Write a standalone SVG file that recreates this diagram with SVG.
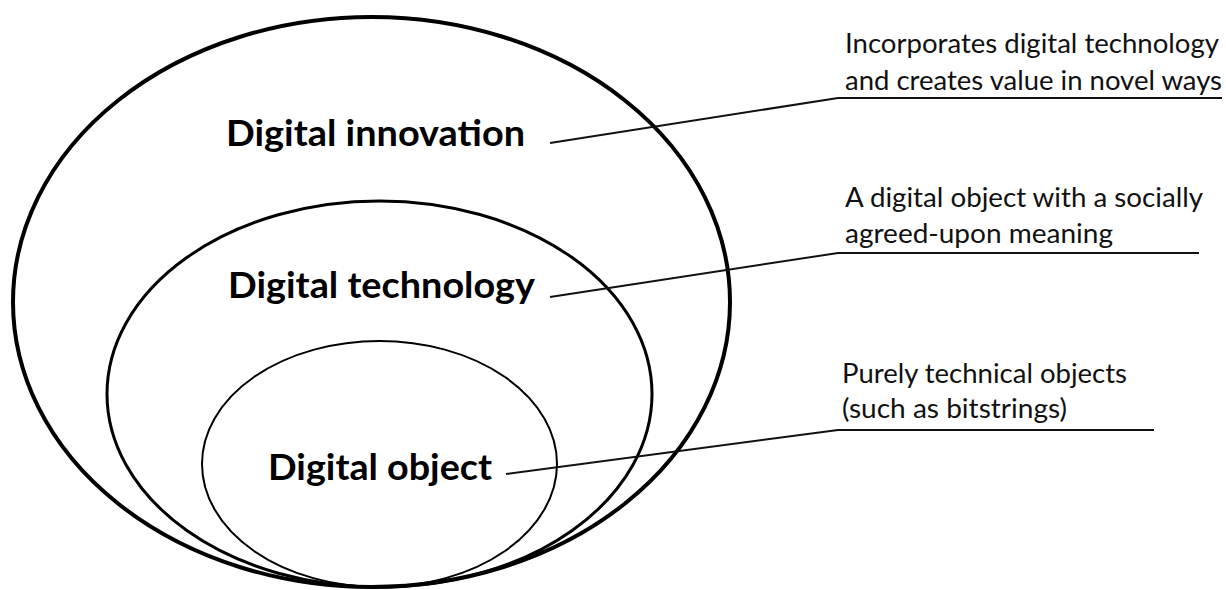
<svg xmlns="http://www.w3.org/2000/svg" width="1226" height="590" viewBox="0 0 1226 590">
  <style>
    .ring { fill: none; stroke: #000; }
    .label { font-family: Lato, "Liberation Sans", sans-serif; font-weight: 700; font-size: 36px; fill: #000; }
    .note { font-family: Lato, "Liberation Sans", sans-serif; font-size: 26px; fill: #111; }
    .leader { fill: none; stroke: #111; stroke-width: 2; stroke-linejoin: round; }
  </style>
  <rect width="1226" height="590" fill="#fff"/>

  <!-- nested sets, all touching at the bottom -->
  <g id="innovation">
    <ellipse class="ring" cx="371.5" cy="302" rx="358.5" ry="285" stroke-width="4"/>
    <text class="label" x="226" y="146" textLength="299" lengthAdjust="spacingAndGlyphs">Digital innovation</text>
  </g>
  <g id="technology">
    <ellipse class="ring" cx="379.5" cy="394" rx="272.5" ry="193" stroke-width="3"/>
    <text class="label" x="228" y="298" textLength="307" lengthAdjust="spacingAndGlyphs">Digital technology</text>
  </g>
  <g id="object">
    <ellipse class="ring" cx="379.5" cy="464" rx="177.5" ry="123" stroke-width="2"/>
    <text class="label" x="268" y="480" textLength="224" lengthAdjust="spacingAndGlyphs">Digital object</text>
  </g>

  <!-- descriptions -->
  <g id="note-innovation">
    <text class="note" x="845" y="53" textLength="374" lengthAdjust="spacingAndGlyphs">Incorporates digital technology</text>
    <text class="note" x="845" y="90" textLength="377" lengthAdjust="spacingAndGlyphs">and creates value in novel ways</text>
  </g>
  <g id="note-technology">
    <text class="note" x="845" y="207" textLength="358" lengthAdjust="spacingAndGlyphs">A digital object with a socially</text>
    <text class="note" x="845" y="243" textLength="268" lengthAdjust="spacingAndGlyphs">agreed-upon meaning</text>
  </g>
  <g id="note-object">
    <text class="note" x="842" y="383" textLength="285" lengthAdjust="spacingAndGlyphs">Purely technical objects</text>
    <text class="note" x="842" y="418" textLength="225" lengthAdjust="spacingAndGlyphs">(such as bitstrings)</text>
  </g>

  <!-- leader lines from each set name to its description -->
  <g id="connectors">
    <polyline class="leader" points="550,143 838,98 1222,98"/>
    <polyline class="leader" points="550,297 838,253 1199,253"/>
    <polyline class="leader" points="506,474 838,430 1154,430"/>
  </g>
</svg>
